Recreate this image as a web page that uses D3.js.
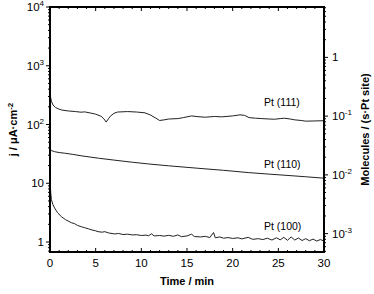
<!DOCTYPE html>
<html>
<head>
<meta charset="utf-8">
<script src="https://cdn.jsdelivr.net/npm/d3@7"></script>
<style>
  body { margin: 0; background: #fff; }
  svg { font-family: "Liberation Sans", Arial, sans-serif; }
  .frame { fill: none; stroke: #000; stroke-width: 2; }
  .tick { stroke: #000; stroke-width: 1; }
  .curve { fill: none; stroke: #222; stroke-width: 1; }
  .ticklabel { font-size: 11.5px; fill: #000; }
  .title { font-size: 11px; font-weight: bold; fill: #000; }
  .label { font-size: 10.5px; fill: #000; }
</style>
</head>
<body>
<div id="chart"></div>
<script>
var width = 374, height = 294;
var margin = {left: 50, right: 50, top: 7, bottom: 42};

// time axis and labels
var timeTicks = [0, 5, 10, 15, 20, 25, 30];
var leftTicks = [1, 10, 100, 1000, 10000];
var leftTickLabels = [["1", ""], ["10", ""], ["10", "2"], ["10", "3"], ["10", "4"]];
var rightTicks = [1e-3, 1e-2, 1e-1, 1];
var rightTickLabels = [["10", "-3"], ["10", "-2"], ["10", "-1"], ["1", ""]];
var seriesNames = ["Pt (111)", "Pt (110)", "Pt (100)"];

// conversion from j (uA cm-2) to molecules / (s Pt site)
var turnover = 7.2e-4;

var t111 = [0, 0.05, 0.15, 0.33, 0.6, 0.9, 1.3, 2.0, 2.8, 3.4, 3.8, 4.5, 5.0, 5.6, 5.9, 6.15, 6.4, 6.6, 7.0, 7.4,
  8.5, 9.5, 10.4, 11.0, 11.6, 12.0, 12.5, 13.0, 14.0, 14.6, 15.5, 16.2, 17.0, 18.0, 18.8, 20.0, 20.8, 21.3, 21.8,
  22.5, 23.2, 24.0, 24.6, 25.2, 25.7, 26.3, 26.8, 27.5, 28.0, 29.0, 30.0];
var j111 = [390, 300, 250, 215, 195, 185, 176, 170, 166, 162, 164, 156, 150, 138, 125, 110, 125, 138, 155, 163,
  166, 163, 158, 145, 128, 117, 120, 124, 126, 131, 140, 136, 133, 137, 135, 140, 146, 143, 131,
  128, 126, 124, 123, 126, 128, 124, 120, 117, 114, 115, 116];

var t110 = [0, 0.05, 0.15, 0.5, 1.0, 1.6, 2.5, 3.5, 5.3, 7, 9, 10.8, 13, 16.2, 19, 21.7, 24, 25.4, 28, 30];
var j110 = [42, 38, 36, 34.5, 33.3, 32.5, 31, 29.2, 26.7, 24.8, 22.8, 21.3, 19.8, 18, 16.6, 15.2, 14.3, 13.8, 12.9, 12.2];

var t100 = [0, 0.03, 0.08, 0.15, 0.3, 0.5, 0.8, 1.24, 1.7, 2.34, 2.7, 3.0, 3.44, 3.8, 4.2, 4.6, 5.0, 5.26, 5.7, 6.0,
  6.4, 7.1, 7.5, 8.0, 8.5, 9.0, 9.5, 10.0, 10.5, 10.8, 11.1, 11.4, 12.0, 12.5, 13.0, 13.5, 14.0, 14.4, 15.0, 15.5,
  15.8, 16.5, 17.0, 17.5, 17.9, 18.1, 18.6, 19.0, 19.5, 20.0, 20.6, 21.0, 21.7, 22.2, 22.8, 23.3, 23.8, 24.3, 24.8,
  25.2, 25.6, 26.0, 26.4, 26.8, 27.2, 27.6, 28.0, 28.4, 28.8, 29.2, 29.6, 30.0];
var j100 = [15, 10, 7, 5.3, 4.4, 3.8, 3.2, 2.7, 2.4, 2.13, 2.05, 1.92, 1.82, 1.75, 1.68, 1.6, 1.55, 1.5, 1.47, 1.5,
  1.43, 1.37, 1.4, 1.34, 1.36, 1.32, 1.33, 1.29, 1.31, 1.28, 1.38, 1.27, 1.29, 1.26, 1.3, 1.25, 1.32, 1.23, 1.27, 1.36,
  1.24, 1.22, 1.25, 1.19, 1.45, 1.18, 1.22, 1.16, 1.19, 1.15, 1.18, 1.13, 1.2, 1.11, 1.14, 1.1, 1.16, 1.08, 1.18,
  1.09, 1.2, 1.07, 1.22, 1.08, 1.17, 1.06, 1.14, 1.05, 1.12, 1.04, 1.1, 1.04];

var x = d3.scaleLinear().domain([0, 30]).range([margin.left, width - margin.right]);
var y = d3.scaleLog().domain([0.676, 10000]).range([height - margin.bottom, margin.top]);
var yRight = d3.scaleLog().domain(y.domain().map(function(d) { return d * turnover; })).range(y.range());

var svg = d3.select("#chart").append("svg")
  .attr("width", width)
  .attr("height", height);

var x0 = x.range()[0], x1 = x.range()[1], yB = y.range()[0], yT = y.range()[1];

// minute ticks on top and bottom, pointing inside
var minutes = d3.range(0, 31, 1);
svg.selectAll("line.xb").data(minutes).enter().append("line")
  .attr("class", "tick")
  .attr("x1", function(d) { return x(d); }).attr("x2", function(d) { return x(d); })
  .attr("y1", yB).attr("y2", function(d) { return yB - (d % 5 == 0 ? 4 : 2); });
svg.selectAll("line.xt").data(minutes).enter().append("line")
  .attr("class", "tick")
  .attr("x1", function(d) { return x(d); }).attr("x2", function(d) { return x(d); })
  .attr("y1", yT).attr("y2", function(d) { return yT + (d % 5 == 0 ? 4 : 2); });

// log ticks (minor + major) outside the side frames
function logTicks(scale) {
  var dom = scale.domain(), out = [];
  var lo = Math.floor(Math.log10(dom[0])), hi = Math.ceil(Math.log10(dom[1]));
  for (var e = lo; e <= hi; e++) {
    for (var m = 1; m < 10; m++) {
      var v = m * Math.pow(10, e);
      if (v >= dom[0] * 0.999 && v <= dom[1] * 1.001) out.push({v: v, major: m == 1});
    }
  }
  return out;
}

svg.selectAll("line.yl").data(logTicks(y)).enter().append("line")
  .attr("class", "tick")
  .attr("x1", x0).attr("x2", function(d) { return x0 - (d.major ? 4 : 2); })
  .attr("y1", function(d) { return y(d.v); }).attr("y2", function(d) { return y(d.v); });
svg.selectAll("line.yr").data(logTicks(yRight)).enter().append("line")
  .attr("class", "tick")
  .attr("x1", x1).attr("x2", function(d) { return x1 + (d.major ? 4 : 2); })
  .attr("y1", function(d) { return yRight(d.v); }).attr("y2", function(d) { return yRight(d.v); });

// curves
var line = d3.line()
  .x(function(d) { return x(d[0]); })
  .y(function(d) { return y(d[1]); });

var curves = [d3.zip(t111, j111), d3.zip(t110, j110), d3.zip(t100, j100)];
svg.selectAll("path.curve").data(curves).enter().append("path")
  .attr("class", "curve")
  .attr("d", line);

// frame
svg.append("rect")
  .attr("class", "frame")
  .attr("x", x0).attr("y", yT)
  .attr("width", x1 - x0).attr("height", yB - yT);

// x tick labels
svg.selectAll("text.xl").data(timeTicks).enter().append("text")
  .attr("class", "ticklabel")
  .attr("x", function(d) { return x(d); })
  .attr("y", yB + 15)
  .attr("text-anchor", "middle")
  .text(function(d) { return d; });

// left tick labels
var ll = svg.selectAll("text.yl").data(leftTicks).enter().append("text")
  .attr("class", "ticklabel")
  .attr("x", x0 - 6)
  .attr("y", function(d) { return y(d) + 4; })
  .attr("text-anchor", "end");
ll.append("tspan").text(function(d, i) { return leftTickLabels[i][0]; });
ll.append("tspan").attr("dy", -5).style("font-size", "8px")
  .text(function(d, i) { return leftTickLabels[i][1]; });

// right tick labels
var rl = svg.selectAll("text.yr").data(rightTicks).enter().append("text")
  .attr("class", "ticklabel")
  .attr("x", x1 + 8)
  .attr("y", function(d) { return yRight(d) + 4; })
  .attr("text-anchor", "start");
rl.append("tspan").text(function(d, i) { return rightTickLabels[i][0]; });
rl.append("tspan").attr("dy", -5).style("font-size", "8px")
  .text(function(d, i) { return rightTickLabels[i][1]; });

// series labels
var labelAt = [208, 18.2, 1.6];
svg.selectAll("text.label").data(seriesNames).enter().append("text")
  .attr("class", "label")
  .attr("x", 264)
  .attr("y", function(d, i) { return y(labelAt[i]); })
  .text(function(d) { return d; });

// axis titles
svg.append("text")
  .attr("class", "title")
  .attr("x", (x0 + x1) / 2)
  .attr("y", 285)
  .attr("text-anchor", "middle")
  .text("Time / min");

var lt = svg.append("text")
  .attr("class", "title")
  .attr("transform", "translate(17," + ((yT + yB) / 2) + ") rotate(-90)")
  .attr("text-anchor", "middle");
lt.append("tspan").text("j / \u03bcA\u00b7cm");
lt.append("tspan").attr("dy", -4).style("font-size", "8px").text("-2");

svg.append("text")
  .attr("class", "title")
  .attr("transform", "translate(369," + ((yT + yB) / 2) + ") rotate(-90)")
  .attr("text-anchor", "middle")
  .text("Molecules / (s\u00b7Pt site)");
</script>
</body>
</html>
